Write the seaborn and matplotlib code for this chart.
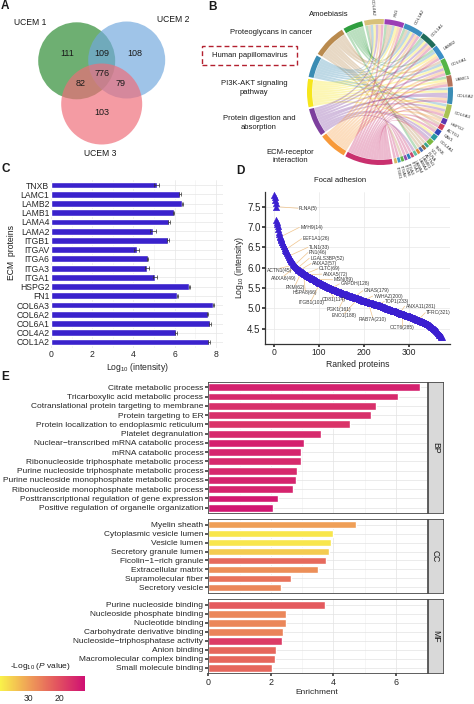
import numpy as np
import pandas as pd
import seaborn as sns
import matplotlib
matplotlib.use('Agg')
import matplotlib.pyplot as plt
from matplotlib.patches import Circle, Wedge, Rectangle, Polygon
from matplotlib.colors import LinearSegmentedColormap, Normalize
from matplotlib.cm import ScalarMappable

# ---------------- data ----------------
# A: venn
venn_names = ['UCEM 1', 'UCEM 2', 'UCEM 3']
venn_colors = ['#2a8a30', '#72a9de', '#f06c78']
venn_counts = [111, 109, 108, 776, 82, 79, 103]

# B: chord diagram
path_names = ['Amoebiasis', 'Proteoglycans in cancer', 'Human papillomavirus',
              'PI3K-AKT signaling\npathway', 'Protein digestion and\nabsorption',
              'ECM-receptor\ninteraction', 'Focal adhesion']
path_keys = ['AM', 'PG', 'HPV', 'PI3K', 'PD', 'ECM', 'FA']
path_colors = ['#2f9e3f', '#b98a4e', '#3a8cb3', '#f6e61c', '#7d3f9e', '#f7993a', '#c9306e']
gene_names = ['ITGB1', 'ITGAV', 'ITGA6', 'ITGA3', 'ITGA1', 'LAMA4', 'LAMA2', 'LAMB1',
              'ACTN1', 'FLNA', 'VCL', 'TNXB', 'COL4A1', 'CAV1', 'ACTG1', 'HSPG2',
              'COL6A3', 'COL6A2', 'LAMC1', 'COL6A1', 'LAMB2', 'COL1A1', 'COL1A2', 'FN1', 'COL4A2']
gene_colors = ['#d8b865', '#3d9bc8', '#62b04a', '#8f4fb0', '#2c7fb8', '#c94a70', '#66c2a5',
               '#e08a3c', '#4a6fb5', '#9c6b3a', '#3aa58f', '#7ab840', '#2a9aa0', '#3048b8',
               '#d0405a', '#5a35b0', '#a8c255', '#3b8db5', '#b5735a', '#55b548', '#3b8fc6',
               '#1f6b5a', '#3d8fc0', '#9b3fb5', '#d8c17a']
gene_links = [['FA'], ['FA'], ['PG'], ['FA'], ['FA'], ['FA'], ['PD'], ['AM'], ['PG'], ['PG'], ['PG'],
              ['PD', 'FA'], ['PD', 'PI3K'], ['PG', 'FA'], ['PG', 'FA'], ['PG', 'ECM'],
              ['HPV', 'PI3K', 'PD', 'ECM', 'FA'],
              ['HPV', 'PI3K', 'PD', 'PD', 'ECM', 'FA'],
              ['AM', 'PI3K', 'ECM', 'FA'],
              ['PG', 'HPV', 'PI3K', 'PD', 'ECM', 'FA'],
              ['AM', 'HPV', 'PI3K', 'ECM', 'FA'],
              ['AM', 'HPV', 'PI3K', 'PD', 'ECM', 'FA'],
              ['AM', 'PG', 'HPV', 'PI3K', 'PD', 'ECM', 'FA'],
              ['AM', 'PG', 'PG', 'HPV', 'PI3K', 'ECM', 'FA'],
              ['AM', 'PG', 'HPV', 'PI3K', 'PD', 'ECM', 'FA']]

# C: ECM proteins
ecm_proteins = ['TNXB', 'LAMC1', 'LAMB2', 'LAMB1', 'LAMA4', 'LAMA2', 'ITGB1', 'ITGAV', 'ITGA6',
                'ITGA3', 'ITGA1', 'HSPG2', 'FN1', 'COL6A3', 'COL6A2', 'COL6A1', 'COL4A2', 'COL1A2']
ecm_intensity = [5.13, 6.26, 6.38, 5.95, 5.73, 4.94, 5.68, 4.16, 4.69,
                 4.66, 5.03, 6.72, 6.13, 7.88, 7.60, 7.72, 6.07, 7.67]
ecm_err = [0.12, 0.03, 0.03, 0.03, 0.03, 0.15, 0.03, 0.12, 0.03,
           0.12, 0.10, 0.03, 0.03, 0.03, 0.03, 0.03, 0.03, 0.03]

# D: ranked focal adhesion proteins, log10 intensity
ranked_intensity = [
    7.78, 7.73, 7.66, 7.58, 7.50, 7.18, 7.13, 7.08, 7.03, 6.95,
    6.88, 6.82, 6.78, 6.75, 6.72, 6.70, 6.67, 6.64, 6.62, 6.59,
    6.57, 6.54, 6.52, 6.49, 6.47, 6.44, 6.42, 6.40, 6.38, 6.36,
    6.33, 6.31, 6.28, 6.26, 6.24, 6.22, 6.20, 6.18, 6.16, 6.15,
    6.13, 6.12, 6.10, 6.09, 6.07, 6.06, 6.04, 6.03, 6.02, 6.01,
    6.00, 5.98, 5.97, 5.96, 5.95, 5.94, 5.93, 5.93, 5.92, 5.91,
    5.90, 5.90, 5.89, 5.88, 5.87, 5.87, 5.86, 5.85, 5.84, 5.84,
    5.83, 5.82, 5.81, 5.81, 5.80, 5.79, 5.79, 5.78, 5.77, 5.77,
    5.76, 5.75, 5.75, 5.74, 5.74, 5.73, 5.72, 5.72, 5.71, 5.71,
    5.70, 5.69, 5.69, 5.68, 5.67, 5.67, 5.66, 5.65, 5.65, 5.64,
    5.63, 5.63, 5.62, 5.62, 5.61, 5.61, 5.60, 5.59, 5.59, 5.58,
    5.58, 5.57, 5.57, 5.56, 5.55, 5.55, 5.54, 5.54, 5.53, 5.53,
    5.52, 5.52, 5.51, 5.51, 5.50, 5.50, 5.49, 5.49, 5.48, 5.48,
    5.47, 5.47, 5.46, 5.46, 5.45, 5.45, 5.44, 5.44, 5.44, 5.43,
    5.43, 5.42, 5.42, 5.41, 5.41, 5.40, 5.40, 5.39, 5.39, 5.39,
    5.38, 5.38, 5.37, 5.37, 5.36, 5.36, 5.36, 5.35, 5.35, 5.34,
    5.34, 5.34, 5.33, 5.33, 5.32, 5.32, 5.32, 5.31, 5.31, 5.30,
    5.30, 5.30, 5.29, 5.29, 5.28, 5.28, 5.28, 5.27, 5.27, 5.27,
    5.26, 5.26, 5.25, 5.25, 5.25, 5.24, 5.24, 5.24, 5.23, 5.23,
    5.23, 5.22, 5.22, 5.21, 5.21, 5.21, 5.20, 5.20, 5.19, 5.19,
    5.19, 5.18, 5.18, 5.17, 5.17, 5.17, 5.16, 5.16, 5.15, 5.15,
    5.15, 5.15, 5.14, 5.14, 5.14, 5.13, 5.13, 5.13, 5.12, 5.12,
    5.12, 5.11, 5.11, 5.11, 5.10, 5.10, 5.10, 5.09, 5.09, 5.09,
    5.09, 5.08, 5.08, 5.08, 5.07, 5.07, 5.06, 5.06, 5.05, 5.05,
    5.05, 5.04, 5.04, 5.03, 5.03, 5.02, 5.02, 5.01, 5.01, 5.00,
    5.00, 4.99, 4.99, 4.98, 4.98, 4.98, 4.97, 4.97, 4.96, 4.96,
    4.96, 4.95, 4.95, 4.95, 4.94, 4.94, 4.94, 4.93, 4.93, 4.93,
    4.92, 4.92, 4.91, 4.91, 4.91, 4.90, 4.90, 4.89, 4.89, 4.89,
    4.88, 4.88, 4.87, 4.87, 4.87, 4.86, 4.86, 4.85, 4.85, 4.85,
    4.84, 4.84, 4.83, 4.83, 4.83, 4.82, 4.82, 4.82, 4.81, 4.81,
    4.81, 4.80, 4.80, 4.79, 4.79, 4.79, 4.78, 4.78, 4.77, 4.77,
    4.76, 4.76, 4.75, 4.75, 4.74, 4.74, 4.73, 4.73, 4.72, 4.72,
    4.71, 4.71, 4.70, 4.70, 4.69, 4.69, 4.69, 4.68, 4.68, 4.67,
    4.67, 4.66, 4.66, 4.65, 4.65, 4.64, 4.64, 4.63, 4.63, 4.62,
    4.62, 4.61, 4.60, 4.60, 4.59, 4.58, 4.58, 4.57, 4.56, 4.55,
    4.55, 4.54, 4.53, 4.52, 4.51, 4.50, 4.49, 4.48, 4.47, 4.46,
    4.45, 4.44, 4.43, 4.41, 4.40, 4.38, 4.37, 4.35, 4.34, 4.33,
    4.32, 4.31, 4.30, 4.29]
d_labels = ['FLNA(5)', 'MYH9(14)', 'EEF1A1(26)', 'TLN1(33)', 'FN1(46)', 'LGALS3BP(52)',
            'ANXA2(57)', 'CLTC(69)', 'ANXA5(72)', 'MSN(89)', 'GAPDH(128)', 'GNAS(179)',
            'YWHAZ(200)', 'TOP1(233)', 'ANXA11(281)', 'TFRC(321)', 'OCT6(285)',
            'ACTN1(45)', 'ANXA6(49)', 'PKM(62)', 'HSPA8(66)', 'ITGB1(103)', 'CD81(114)',
            'PGK1(161)', 'ENO1(188)', 'RAB7A(210)']
d_label_rank = [5, 14, 26, 33, 46, 52, 57, 69, 72, 89, 128, 179, 200, 233, 281, 321, 285,
                45, 49, 62, 66, 103, 114, 161, 188, 210]

# E: GO enrichment
bp_terms = ['Citrate metabolic process', 'Tricarboxylic acid metabolic process',
            'Cotranslational protein targeting to membrane', 'Protein targeting to ER',
            'Protein localization to endoplasmic reticulum', 'Platelet degranulation',
            'Nuclear\u2212transcribed mRNA catabolic process', 'mRNA catabolic process',
            'Ribonucleoside triphosphate metabolic process',
            'Purine nucleoside triphosphate metabolic process',
            'Purine nucleoside monophosphate metabolic process',
            'Ribonucleoside monophosphate metabolic process',
            'Posttranscriptional regulation of gene expression',
            'Positive regulation of organelle organization']
bp_enrich = [6.79, 6.06, 5.37, 5.20, 4.52, 3.59, 3.07, 2.98, 2.95, 2.83, 2.79, 2.72, 2.22, 2.06]
bp_logp = [14.0, 15.0, 16.0, 16.0, 16.5, 15.0, 14.0, 14.5, 15.0, 15.0, 14.5, 14.5, 13.0, 12.5]
cc_terms = ['Myelin sheath', 'Cytoplasmic vesicle lumen', 'Vesicle lumen',
            'Secretory granule lumen', 'Ficolin\u22121\u2212rich granule', 'Extracellular matrix',
            'Supramolecular fiber', 'Secretory vesicle']
cc_enrich = [4.73, 4.00, 3.94, 3.87, 3.77, 3.52, 2.66, 2.34]
cc_logp = [30.0, 38.0, 38.0, 35.0, 23.5, 28.0, 24.5, 27.0]
mf_terms = ['Purine nucleoside binding', 'Nucleoside phosphate binding', 'Nucleotide binding',
            'Carbohydrate derivative binding', 'Nucleoside\u2212triphosphatase activity',
            'Anion binding', 'Macromolecular complex binding', 'Small molecule binding']
mf_enrich = [3.74, 2.49, 2.47, 2.39, 2.37, 2.17, 2.12, 2.04]
mf_logp = [21.5, 27.0, 27.0, 26.5, 17.5, 23.0, 23.0, 23.0]

# ---------------- style ----------------
sns.set_theme(style='whitegrid')
plt.rcParams['font.family'] = ['Liberation Sans', 'DejaVu Sans']
plt.rcParams['mathtext.fontset'] = 'custom'
plt.rcParams['mathtext.rm'] = 'Liberation Sans'
plt.rcParams['mathtext.it'] = 'Liberation Sans:italic'
plt.rcParams['text.color'] = '#1a1a1a'

W, H = 474, 704
fig = plt.figure(figsize=(W / 100, H / 100), dpi=100)
fig.patch.set_facecolor('white')


def box(x0, y0, x1, y1):
    return [x0 / W, 1 - y1 / H, (x1 - x0) / W, (y1 - y0) / H]


def ftext(x, y, s, **kw):
    return fig.text(x / W, 1 - y / H, s, **kw)


for lab, (x, y) in zip('ABCDE', [(1, 6), (208, 7), (1, 169), (236, 171), (1, 377)]):
    ftext(x, y, lab, fontsize=8.5, fontweight='bold', va='center', ha='left')

# ---------------- A: venn ----------------
axA = fig.add_axes(box(0, 0, 230, 165))
axA.set_xlim(0, 230)
axA.set_ylim(165, 0)
axA.axis('off')
centers = [(76.7, 60.8), (126.7, 60.0), (101.7, 104.0)]
radii = [38.5, 38.5, 40.5]
for (cx, cy), r, col in zip(centers, radii, venn_colors):
    axA.add_patch(Circle((cx, cy), r, facecolor=col, edgecolor='none', alpha=0.68))
for name, (x, y) in zip(venn_names, [(30, 22.7), (173.3, 20.0), (100, 154.0)]):
    axA.text(x, y, name, fontsize=6.2, ha='center', va='center')
num_pos = [(67.7, 53.3), (102.3, 53.3), (134.7, 53.3), (102, 73), (81, 83.7), (120.7, 83.7), (102, 112.7)]
for n, (x, y) in zip(venn_counts, num_pos):
    axA.text(x, y, str(n), fontsize=6.5, ha='center', va='center')

# ---------------- B: chord ----------------
axB = fig.add_axes(box(300, 12, 460, 172))
lim = 80 / 73
axB.set_xlim(-lim, lim)
axB.set_ylim(-lim, lim)
axB.axis('off')

unit, gap_small, gap_big = 2.254, 0.6, 1.5
angle = -78.5
gene_span = []
for links in gene_links:
    a1 = angle + unit * len(links)
    gene_span.append((angle, a1))
    angle = a1 + gap_small
angle = angle - gap_small + gap_big
path_count = {k: sum(l.count(k) for l in gene_links) for k in path_keys}
path_span = []
for k in path_keys:
    a1 = angle + unit * path_count[k]
    path_span.append((angle, a1))
    angle = a1 + gap_big

gmid = [(a + b) / 2 for a, b in gene_span]
pmid = [(a + b) / 2 for a, b in path_span]

# slots on each pathway sector: ordered by gene angle descending
link_list = []
for gi, links in enumerate(gene_links):
    for pk in links:
        link_list.append((gi, path_keys.index(pk)))
path_slot = {}
for pi in range(len(path_keys)):
    idx = [i for i, (g, p) in enumerate(link_list) if p == pi]
    idx.sort(key=lambda i: -gmid[link_list[i][0]])
    a0 = path_span[pi][0]
    for j, i in enumerate(idx):
        path_slot[i] = (a0 + unit * j, a0 + unit * (j + 1))
gene_slot = {}
for gi in range(len(gene_names)):
    idx = [i for i, (g, p) in enumerate(link_list) if g == gi]
    idx.sort(key=lambda i: -pmid[link_list[i][1]])
    a0 = gene_span[gi][0]
    for j, i in enumerate(idx):
        gene_slot[i] = (a0 + unit * j, a0 + unit * (j + 1))

r_in = 0.925


def pt(a, r=r_in):
    t = np.deg2rad(a)
    return np.array([r * np.cos(t), r * np.sin(t)])


def arc(a0, a1, r=r_in, n=16):
    t = np.deg2rad(np.linspace(a0, a1, n))
    return np.column_stack([r * np.cos(t), r * np.sin(t)])


def bez(p, q, n=30):
    t = np.linspace(0, 1, n)[:, None]
    return (1 - t) ** 2 * p + t ** 2 * q


order = sorted(range(len(link_list)), key=lambda i: link_list[i][1] == 6)
for i in order:
    gi, pi = link_list[i]
    a0, a1 = path_slot[i]
    b0, b1 = gene_slot[i]
    verts = np.vstack([arc(a0, a1), bez(pt(a1), pt(b0)), arc(b0, b1), bez(pt(b1), pt(a0))])
    axB.add_patch(Polygon(verts, closed=True, facecolor=path_colors[pi], edgecolor='none',
                          alpha=0.33, zorder=1))

for (a0, a1), col in zip(path_span, path_colors):
    axB.add_patch(Wedge((0, 0), 1.0, a0, a1, width=0.07, facecolor=col, edgecolor='none', zorder=2))
for (a0, a1), col, name in zip(gene_span, gene_colors, gene_names):
    axB.add_patch(Wedge((0, 0), 1.0, a0, a1, width=0.07, facecolor=col, edgecolor='none', zorder=2))
    m = (a0 + a1) / 2
    x, y = pt(m, 1.05)
    if -90 <= m <= 90:
        axB.text(x, y, name, rotation=m, rotation_mode='anchor', ha='left', va='center',
                 fontsize=3.2, color='#333333')
    else:
        axB.text(x, y, name, rotation=m - 180, rotation_mode='anchor', ha='right', va='center',
                 fontsize=3.2, color='#333333')

path_label_pos = [(329, 14), (271, 33), (250, 55.5), (254, 88), (259, 123), (290, 156.5), (340, 181)]
for name, (x, y) in zip(path_names, path_label_pos):
    ftext(x, y, name, fontsize=5.5, ha='center', va='center', linespacing=1.35)
fig.add_artist(Rectangle((202 / W, 1 - 64.5 / H), 95 / W, 19 / H, transform=fig.transFigure,
                         fill=False, edgecolor='#b3202f', linestyle=(0, (3.5, 2.2)), linewidth=1.0))

# ---------------- C: ECM bars ----------------
axC = fig.add_axes(box(51, 179.5, 223, 347.5))
dfc = pd.DataFrame({'protein': ecm_proteins, 'intensity': ecm_intensity})
sns.barplot(data=dfc, x='intensity', y='protein', orient='h', color='#3a22cc', saturation=1,
            width=0.74, errorbar=None, ax=axC)
axC.errorbar(ecm_intensity, range(len(ecm_proteins)), xerr=ecm_err, fmt='none',
             ecolor='#333333', elinewidth=0.5, capsize=1.2, capthick=0.5)
axC.set_xlim(0, 8.35)
axC.set_ylim(len(ecm_proteins) - 0.4, -0.6)
axC.set_xticks([0, 2, 4, 6, 8])
axC.set_xticks([1, 3, 5, 7], minor=True)
axC.grid(True, which='major', color='#e6e6e6', linewidth=0.5)
axC.grid(True, which='minor', axis='x', color='#f0f0f0', linewidth=0.4)
axC.set_axisbelow(True)
for s in axC.spines.values():
    s.set_visible(False)
axC.tick_params(axis='y', labelsize=6.2, pad=1.2, length=0)
axC.tick_params(axis='x', labelsize=6.2, pad=1.5, length=0)
axC.set_xlabel('Log$_{10}$ (intensity)', fontsize=6.2, labelpad=1.5)
axC.set_ylabel('')
ftext(12, 252, 'ECM  proteins', rotation=90, fontsize=6.2, ha='center', va='center')

# ---------------- D: ranked proteins ----------------
axD = fig.add_axes(box(265, 192, 450, 344))
ranks = np.arange(1, len(ranked_intensity) + 1)
sns.scatterplot(x=ranks, y=ranked_intensity, marker='^', s=22, color='#3b1fd0',
                edgecolor='#3b1fd0', linewidth=0.3, ax=axD, zorder=3)
axD.set_xlim(-19.5, 392)
axD.set_ylim(4.12, 7.86)
axD.set_xticks([0, 100, 200, 300])
axD.set_yticks([4.5, 5.0, 5.5, 6.0, 6.5, 7.0, 7.5])
axD.grid(True, color='#e8e8e8', linewidth=0.5)
for s in ['top', 'right']:
    axD.spines[s].set_visible(False)
for s in ['left', 'bottom']:
    axD.spines[s].set_color('#333333')
    axD.spines[s].set_linewidth(0.9)
axD.tick_params(axis='y', labelsize=7.0, pad=1.2, length=2, color='#333333', left=True)
axD.tick_params(axis='x', labelsize=6.2, pad=1.2, length=2, color='#333333', bottom=True)
axD.set_xlabel('Ranked proteins', fontsize=6.2, labelpad=1.5)
axD.set_ylabel('Log$_{10}$ (intensity)', fontsize=6.2, labelpad=1)

label_xy = [(56, 7.46, 'left'), (59, 6.99, 'left'), (64, 6.71, 'left'), (78, 6.50, 'left'),
            (78, 6.37, 'left'), (81, 6.23, 'left'), (85, 6.10, 'left'), (100, 5.97, 'left'),
            (109, 5.84, 'left'), (133, 5.70, 'left'), (148, 5.60, 'left'), (200, 5.43, 'left'),
            (222, 5.30, 'left'), (248, 5.17, 'left'), (293, 5.05, 'left'), (339, 4.89, 'left'),
            (285, 4.52, 'center'), (13, 5.93, 'center'), (22, 5.74, 'center'), (48, 5.52, 'center'),
            (70, 5.38, 'center'), (83, 5.13, 'center'), (134, 5.21, 'center'), (146, 4.97, 'center'),
            (156, 4.81, 'center'), (220, 4.72, 'center')]
for lab, rk, (lx, ly, ha) in zip(d_labels, d_label_rank, label_xy):
    px, py = rk, ranked_intensity[rk - 1]
    if ha == 'left':
        ex, ey = lx - 2, ly
    else:
        ex, ey = lx, ly + 0.05 if ly < py else ly - 0.05
    axD.plot([px, ex], [py, ey], color='#f0c48c', linewidth=0.5, zorder=2)
    axD.text(lx, ly, lab, fontsize=3.6, ha=ha, va='center', color='#3a3a3a', zorder=4)

# ---------------- E: GO enrichment ----------------
cmap = LinearSegmentedColormap.from_list('logp', ['#cf0f73', '#e3555f', '#efa057', '#f9f24a'])
norm = Normalize(vmin=11.6, vmax=39.35)

facets = [('BP', bp_terms, bp_enrich, bp_logp, 381.7, 513.3),
          ('CC', cc_terms, cc_enrich, cc_logp, 519.3, 592.7),
          ('MF', mf_terms, mf_enrich, mf_logp, 599.3, 673.3)]
for k, (tag, terms, enr, lp, y0, y1) in enumerate(facets):
    ax = fig.add_axes(box(207.5, y0, 427, y1))
    dfe = pd.DataFrame({'term': terms, 'enrichment': enr})
    pal = {t: cmap(norm(v)) for t, v in zip(terms, lp)}
    sns.barplot(data=dfe, x='enrichment', y='term', hue='term', palette=pal, orient='h',
                saturation=1, width=0.85, errorbar=None, legend=False, ax=ax)
    ax.set_xlim(-0.03, 7.0)
    ax.set_ylim(len(terms) - 0.4, -0.6)
    ax.set_xticks([0, 2, 4, 6])
    ax.set_xticks([1, 3, 5, 7], minor=True)
    ax.grid(True, which='major', color='#e3e3e3', linewidth=0.5)
    ax.grid(True, which='minor', axis='x', color='#f0f0f0', linewidth=0.4)
    ax.set_axisbelow(True)
    for s in ax.spines.values():
        s.set_color('#444444')
        s.set_linewidth(0.6)
    ax.tick_params(axis='y', labelsize=6.0, pad=1.0, length=2, color='#444444', left=True)
    ax.set_ylabel('')
    if tag == 'MF':
        ax.tick_params(axis='x', labelsize=6.4, pad=1.2, length=2, color='#444444', bottom=True)
        ax.set_xlabel('Enrichment', fontsize=6.0, labelpad=1.5)
    else:
        ax.set_xticklabels([])
        ax.tick_params(axis='x', length=0)
        ax.set_xlabel('')
    sx = fig.add_axes(box(427.5, y0, 443, y1))
    sx.set_xticks([])
    sx.set_yticks([])
    sx.set_facecolor('#d9d9d9')
    sx.grid(False)
    for s in sx.spines.values():
        s.set_color('#444444')
        s.set_linewidth(0.6)
    sx.text(0.5, 0.5, tag, rotation=-90, ha='center', va='center', fontsize=6.2,
            transform=sx.transAxes)

cax = fig.add_axes(box(0, 675.7, 85, 691))
cb = fig.colorbar(ScalarMappable(norm=norm, cmap=cmap), cax=cax, orientation='horizontal')
cax.invert_xaxis()
cb.set_ticks([20, 30])
cb.outline.set_visible(False)
cax.tick_params(labelsize=6.2, length=3, color='white', direction='in', pad=2)
ftext(10, 667, '-Log$_{10}$ ($P$ value)', fontsize=6.0, ha='left', va='center')

fig.savefig('out.png', dpi=100, facecolor='white')
